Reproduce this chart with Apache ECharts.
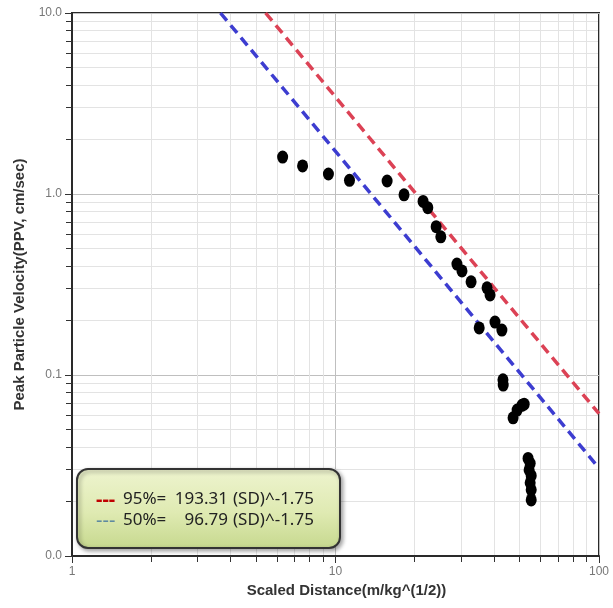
<!DOCTYPE html>
<html>
<head>
<meta charset="utf-8">
<script src="https://cdn.jsdelivr.net/npm/echarts@6/dist/echarts.min.js"></script>
<style>
html,body{margin:0;padding:0;background:#fff;}
#main{width:613px;height:608px;}
</style>
</head>
<body>
<div id="main"></div>
<script>
// Measured points (Scaled Distance, PPV)
const sdValues = [6.3, 7.5, 9.4, 11.3, 15.7, 18.2, 21.5, 22.4, 24.1, 25.1, 28.9, 30.2, 32.7, 37.6, 38.6, 35.1, 40.3, 42.8, 43.2, 43.3, 47.2, 48.9, 51.0, 52.0, 53.8, 54.8, 54.3, 55.3, 54.8, 55.3, 55.3];
const ppvValues = [1.60, 1.43, 1.29, 1.19, 1.18, 0.99, 0.91, 0.84, 0.66, 0.58, 0.41, 0.376, 0.327, 0.303, 0.277, 0.182, 0.196, 0.177, 0.094, 0.088, 0.058, 0.064, 0.068, 0.069, 0.0346, 0.0325, 0.0299, 0.0278, 0.0254, 0.0232, 0.0204];

// Regression lines (end points)
const line95X = [5.43, 100];
const line95Y = [10, 0.0611];
const line50X = [3.66, 100];
const line50Y = [10, 0.0306];

// Tick labels
const xTickLabels = ['1', '10', '100'];
const yTickLabels = ['0.0', '0.1', '1.0', '10.0'];

// Minor grid values
const xMinor = [2,3,4,5,6,7,8,9,20,30,40,50,60,70,80,90];
const yMinor = [0.02,0.03,0.04,0.05,0.06,0.07,0.08,0.09,0.2,0.3,0.4,0.5,0.6,0.7,0.8,0.9,2,3,4,5,6,7,8,9];

const legend95 = ['95%=', '193.31', '(SD)^-1.75'];
const legend50 = ['50%=', '96.79', '(SD)^-1.75'];

const X_MIN = 1, X_MAX = 100, Y_MIN = 0.01, Y_MAX = 10;

const chart = echarts.init(document.getElementById('main'));

function snap(v){ return Math.round(v - 0.5) + 0.5; }

function minorX(params, api){
  const v = api.value(0);
  const t = api.coord([v, Y_MAX]);
  const b = api.coord([v, Y_MIN]);
  const x = snap(t[0]);
  return {type:'group', children:[
    {type:'line', shape:{x1:x, y1:t[1]+1, x2:x, y2:b[1]-1}, style:{stroke:'#e3e3e3', lineWidth:1}},
    {type:'line', shape:{x1:x, y1:b[1], x2:x, y2:b[1]+6}, style:{stroke:'#333', lineWidth:1}}
  ]};
}
function minorY(params, api){
  const v = api.value(1);
  const l = api.coord([X_MIN, v]);
  const r = api.coord([X_MAX, v]);
  const y = snap(l[1]);
  return {type:'group', children:[
    {type:'line', shape:{x1:l[0]+1, y1:y, x2:r[0]-1, y2:y}, style:{stroke:'#e3e3e3', lineWidth:1}},
    {type:'line', shape:{x1:l[0]-6, y1:y, x2:l[0], y2:y}, style:{stroke:'#333', lineWidth:1}}
  ]};
}

const txtFont = '"Noto Sans", "Open Sans", sans-serif';
const FS = '17px ';

chart.setOption({
  animation: false,
  backgroundColor: '#fff',
  grid: {left: 72, right: 14, top: 13, bottom: 52, show: true, borderColor: '#2a2a2a', borderWidth: 2, backgroundColor: '#fff'},
  xAxis: {
    type: 'log', logBase: 10, min: X_MIN, max: X_MAX,
    name: 'Scaled Distance(m/kg^(1/2))', nameLocation: 'middle', nameGap: 26,
    nameTextStyle: {fontFamily: '"Liberation Sans", Arial, sans-serif', fontWeight: 'bold', fontSize: 15, color: '#333', padding: [0,0,0,22]},
    axisLine: {show: true, onZero: false, lineStyle: {color: '#2a2a2a', width: 2}},
    axisTick: {show: true, length: 7, lineStyle: {color: '#333'}},
    axisLabel: {margin: 10, fontSize: 12, color: '#777', fontFamily: '"Liberation Sans", Arial, sans-serif',
      formatter: function(v){ return xTickLabels[Math.round(Math.log10(v))]; }},
    splitLine: {show: true, lineStyle: {color: '#bfbfbf', width: 1}},
    minorTick: {show: false}, minorSplitLine: {show: false}
  },
  yAxis: {
    type: 'log', logBase: 10, min: Y_MIN, max: Y_MAX,
    name: 'Peak Particle Velocity(PPV, cm/sec)', nameLocation: 'middle', nameGap: 44,
    nameTextStyle: {fontFamily: '"Liberation Sans", Arial, sans-serif', fontWeight: 'bold', fontSize: 15, color: '#333'},
    axisLine: {show: true, onZero: false, lineStyle: {color: '#2a2a2a', width: 2}},
    axisTick: {show: true, length: 7, lineStyle: {color: '#333'}},
    axisLabel: {margin: 10, fontSize: 12, color: '#777', fontFamily: '"Liberation Sans", Arial, sans-serif',
      formatter: function(v){ return yTickLabels[Math.round(Math.log10(v)) + 2]; }},
    splitLine: {show: true, lineStyle: {color: '#bfbfbf', width: 1}},
    minorTick: {show: false}, minorSplitLine: {show: false}
  },
  series: [
    {type: 'custom', silent: true, z: 1, clip: false, renderItem: minorX,
     data: xMinor.map(function(v){ return [v, Y_MIN]; })},
    {type: 'custom', silent: true, z: 1, clip: false, renderItem: minorY,
     data: yMinor.map(function(v){ return [X_MIN, v]; })},
    {type: 'line', name: '95%', z: 3, symbol: 'none', silent: true,
     lineStyle: {color: '#dc4255', width: 3.5, type: [10, 6]},
     data: line95X.map(function(x, i){ return [x, line95Y[i]]; })},
    {type: 'line', name: '50%', z: 3, symbol: 'none', silent: true,
     lineStyle: {color: '#3d3dd0', width: 3.5, type: [10, 6]},
     data: line50X.map(function(x, i){ return [x, line50Y[i]]; })},
    {type: 'scatter', z: 4, symbol: 'circle', symbolSize: [11, 13],
     itemStyle: {color: '#000', opacity: 1},
     data: sdValues.map(function(x, i){ return [x, ppvValues[i]]; })}
  ],
  graphic: [
    {type: 'rect', left: 76, top: 468, z: 100,
     shape: {width: 263, height: 79, r: 11},
     style: {
       fill: new echarts.graphic.LinearGradient(0, 0, 0, 1, [
         {offset: 0, color: '#eef4cf'}, {offset: 0.55, color: '#dfeab2'}, {offset: 1, color: '#c6d88e'}]),
       stroke: '#333', lineWidth: 2,
       shadowBlur: 4, shadowOffsetX: 2, shadowOffsetY: 2, shadowColor: 'rgba(0,0,0,0.35)'
     }},
    {type: 'text', left: 96, top: 490, z: 101, style: {text: '---', font: 'bold 20px ' + txtFont, fill: '#c00000'}},
    {type: 'text', left: 123, top: 491, z: 101, style: {text: legend95[0], font: FS + txtFont, fill: '#222'}},
    {type: 'text', right: 613 - 228, top: 491, z: 101, style: {text: legend95[1], font: FS + txtFont, fill: '#222'}},
    {type: 'text', left: 233, top: 491, z: 101, style: {text: legend95[2], font: FS + txtFont, fill: '#222'}},
    {type: 'text', left: 96, top: 511, z: 101, style: {text: '---', font: '20px ' + txtFont, fill: '#5f8aa0'}},
    {type: 'text', left: 123, top: 512, z: 101, style: {text: legend50[0], font: FS + txtFont, fill: '#222'}},
    {type: 'text', right: 613 - 228, top: 512, z: 101, style: {text: legend50[1], font: FS + txtFont, fill: '#222'}},
    {type: 'text', left: 233, top: 512, z: 101, style: {text: legend50[2], font: FS + txtFont, fill: '#222'}}
  ]
});
</script>
</body>
</html>
